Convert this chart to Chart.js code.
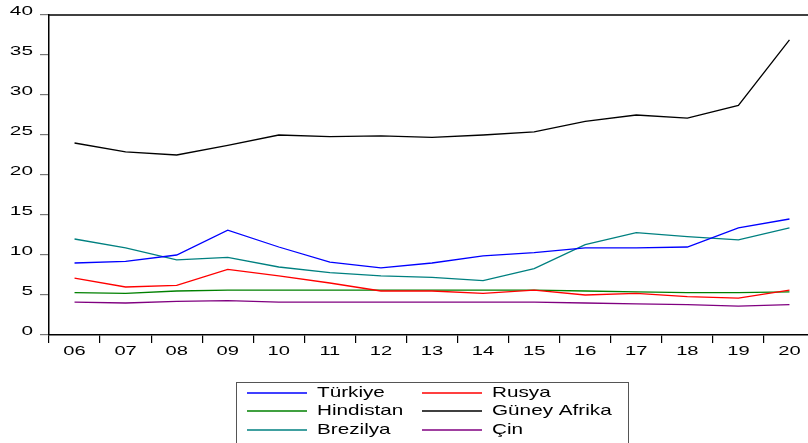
<!DOCTYPE html>
<html><head><meta charset="utf-8">
<script src="https://cdn.jsdelivr.net/npm/chart.js@4/dist/chart.umd.min.js"></script>
<style>html,body{margin:0;padding:0;overflow:hidden;background:#fff;width:808px;height:443px}canvas{display:block}</style>
</head><body>
<canvas id="c" width="830" height="443"></canvas>
<script>
const years = ['06','07','08','09','10','11','12','13','14','15','16','17','18','19','20'];
const seriesNames = ['Türkiye','Rusya','Hindistan','Güney Afrika','Brezilya','Çin'];
const turkiye     = [9.0, 9.2, 10.0, 13.1, 11.0, 9.1, 8.4, 9.0, 9.9, 10.3, 10.9, 10.9, 11.0, 13.4, 14.5];
const rusya       = [7.1, 6.0, 6.2, 8.2, 7.4, 6.5, 5.5, 5.5, 5.2, 5.6, 5.0, 5.2, 4.8, 4.6, 5.6];
const hindistan   = [5.3, 5.2, 5.5, 5.6, 5.6, 5.6, 5.6, 5.6, 5.6, 5.6, 5.5, 5.4, 5.3, 5.3, 5.4];
const guneyAfrika = [24.0, 22.9, 22.5, 23.7, 25.0, 24.8, 24.9, 24.7, 25.0, 25.4, 26.7, 27.5, 27.1, 28.7, 36.9];
const brezilya    = [12.0, 10.9, 9.4, 9.7, 8.5, 7.8, 7.4, 7.2, 6.8, 8.3, 11.3, 12.8, 12.3, 11.9, 13.4];
const cin         = [4.1, 4.0, 4.2, 4.3, 4.1, 4.1, 4.1, 4.1, 4.1, 4.1, 4.0, 3.9, 3.8, 3.6, 3.8];
const yTickStep = 5, yMin = 0, yMax = 40;

const colors = ['#0000FF','#FF0000','#008000','#000000','#008080','#800080'];
const values = [turkiye, rusya, hindistan, guneyAfrika, brezilya, cin];
const FONT = '"Liberation Sans", Arial, sans-serif';

function stretchedText(ctx, text, x, y, size, sx, align) {
  ctx.save();
  ctx.font = size + 'px ' + FONT;
  ctx.textAlign = align; ctx.textBaseline = 'middle'; ctx.fillStyle = '#000';
  ctx.scale(sx, 1);
  ctx.fillText(text, x / sx, y);
  ctx.restore();
}

const framePlugin = {
  id: 'frame',
  afterDraw(chart) {
    const ctx = chart.ctx, a = chart.chartArea;
    ctx.save(); ctx.strokeStyle = '#000'; ctx.lineWidth = 1.5;
    ctx.beginPath(); ctx.moveTo(a.left, a.top); ctx.lineTo(a.right + 20, a.top); ctx.stroke(); ctx.restore();
    const ys = chart.scales.y;
    ys.ticks.forEach((t, i) => stretchedText(ctx, String(t.value), ys.right - 16, ys.getPixelForTick(i) - 3.5, 13, 1.6, 'right'));
    const xs = chart.scales.x;
    xs.ticks.forEach((t, i) => stretchedText(ctx, xs.getLabelForValue(t.value), xs.getPixelForTick(i), a.bottom + 16, 13, 1.55, 'center'));
    // legend
    ctx.save();
    ctx.strokeStyle = '#555'; ctx.lineWidth = 1;
    ctx.strokeRect(236.5, 382.5, 392, 80);
    chart.data.datasets.forEach((ds, i) => {
      const col = i % 2, row = Math.floor(i / 2);
      const lx = [247, 422][col], tx = [317, 492][col];
      const y = 392.5 + row * 18.5;
      ctx.save();
      ctx.strokeStyle = colors[i]; ctx.lineWidth = 1.5;
      ctx.beginPath(); ctx.moveTo(lx, Math.round(y)); ctx.lineTo(lx + 60, Math.round(y)); ctx.stroke();
      ctx.restore();
      stretchedText(ctx, ds.label, tx, y, 15, 1.38, 'left');
    });
    ctx.restore();
  }
};

new Chart(document.getElementById('c'), {
  type: 'line',
  data: {
    labels: years,
    datasets: seriesNames.map((n, i) => ({
      label: n, data: values[i], borderColor: colors[i], backgroundColor: colors[i],
      borderWidth: 1.3, pointRadius: 0, tension: 0, fill: false
    }))
  },
  options: {
    responsive: false, animation: false, devicePixelRatio: 1,
    layout: { padding: { top: 15, right: 15, bottom: 98, left: 0 } },
    plugins: { legend: { display: false }, tooltip: { enabled: false } },
    scales: {
      x: {
        offset: true,
        grid: { offset: true, drawOnChartArea: false, drawTicks: true, tickLength: 8, tickColor: '#000', lineWidth: 1.2 },
        border: { display: true, color: '#000', width: 1.5 },
        ticks: { display: false },
        afterFit: s => { s.height = 10; }
      },
      y: {
        min: yMin, max: yMax,
        grid: { drawOnChartArea: false, drawTicks: true, tickLength: 9, tickColor: '#777', lineWidth: 1.2 },
        border: { display: true, color: '#000', width: 1.5 },
        ticks: { display: false, stepSize: yTickStep },
        afterFit: s => { s.width = 49; }
      }
    }
  },
  plugins: [framePlugin]
});
</script>
</body></html>
